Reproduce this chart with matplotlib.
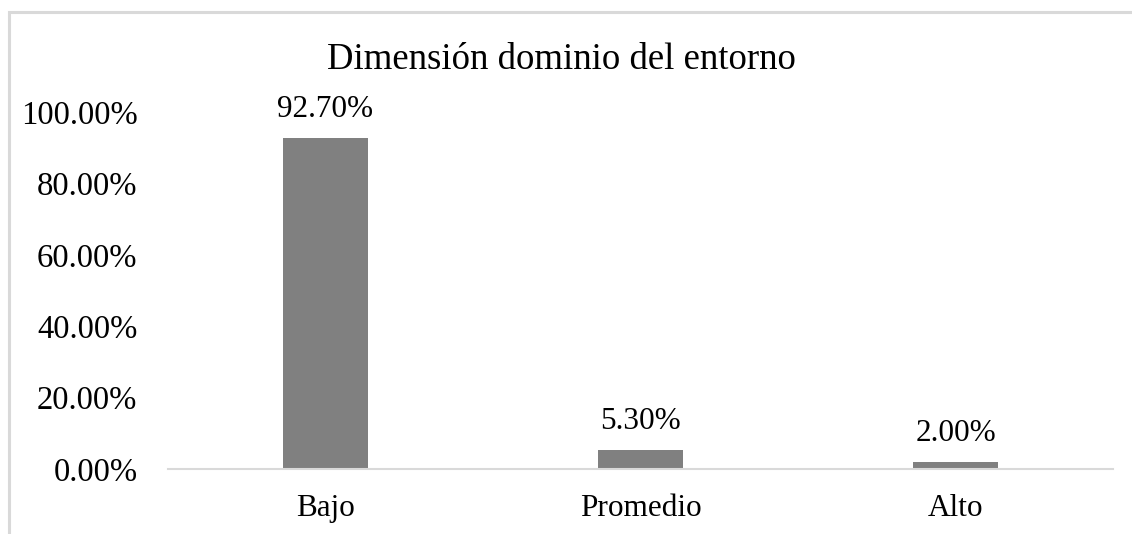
import matplotlib
matplotlib.use("Agg")
import matplotlib.pyplot as plt
from matplotlib.patches import Rectangle
from matplotlib.ticker import FuncFormatter

categories = ["Bajo", "Promedio", "Alto"]
values = [0.927, 0.053, 0.020]
title = "Dimensión dominio del entorno"

plt.rcParams['font.family'] = ['Liberation Serif', 'DejaVu Serif']

W, H = 1132, 534
fig = plt.figure(figsize=(W / 100, H / 100), dpi=100)

# outer chart border (partially cut off)
fig.patches.append(Rectangle((9 / W, -0.1), 1.2, 1 - 12 / H + 0.1, transform=fig.transFigure,
                             fill=False, edgecolor="#d9d9d9", linewidth=2.2, zorder=0))

ax = fig.add_axes([168 / W, 1 - 469 / H, (1113 - 168) / W, (469 - 112) / H])
x = range(len(categories))
bars = ax.bar(x, values, width=0.273, color="#808080", zorder=2)
ax.set_xlim(-0.5, len(categories) - 0.5)
ax.set_ylim(0, 1.0)
ax.set_yticks([0, 0.2, 0.4, 0.6, 0.8, 1.0])
ax.yaxis.set_major_formatter(FuncFormatter(lambda v, p: f"{v*100:.2f}%"))
ax.set_xticks(list(x))
ax.set_xticklabels(categories)
for s in ["top", "right", "left"]:
    ax.spines[s].set_visible(False)
ax.spines["bottom"].set_color("#d9d9d9")
ax.spines["bottom"].set_linewidth(1.5)
ax.tick_params(axis="y", length=0, pad=22, labelsize=23.5)
ax.tick_params(axis="x", length=0, pad=18, labelsize=22.5)

for b, v in zip(bars, values):
    ax.annotate(f"{v*100:.2f}%", (b.get_x() + b.get_width() / 2, v), xytext=(0, 10),
                textcoords="offset points", ha="center", va="bottom", fontsize=22.5)

fig.text(561 / W, 1 - 60 / H, title, ha="center", va="center", fontsize=26.5)

fig.savefig("out.png", dpi=100)
